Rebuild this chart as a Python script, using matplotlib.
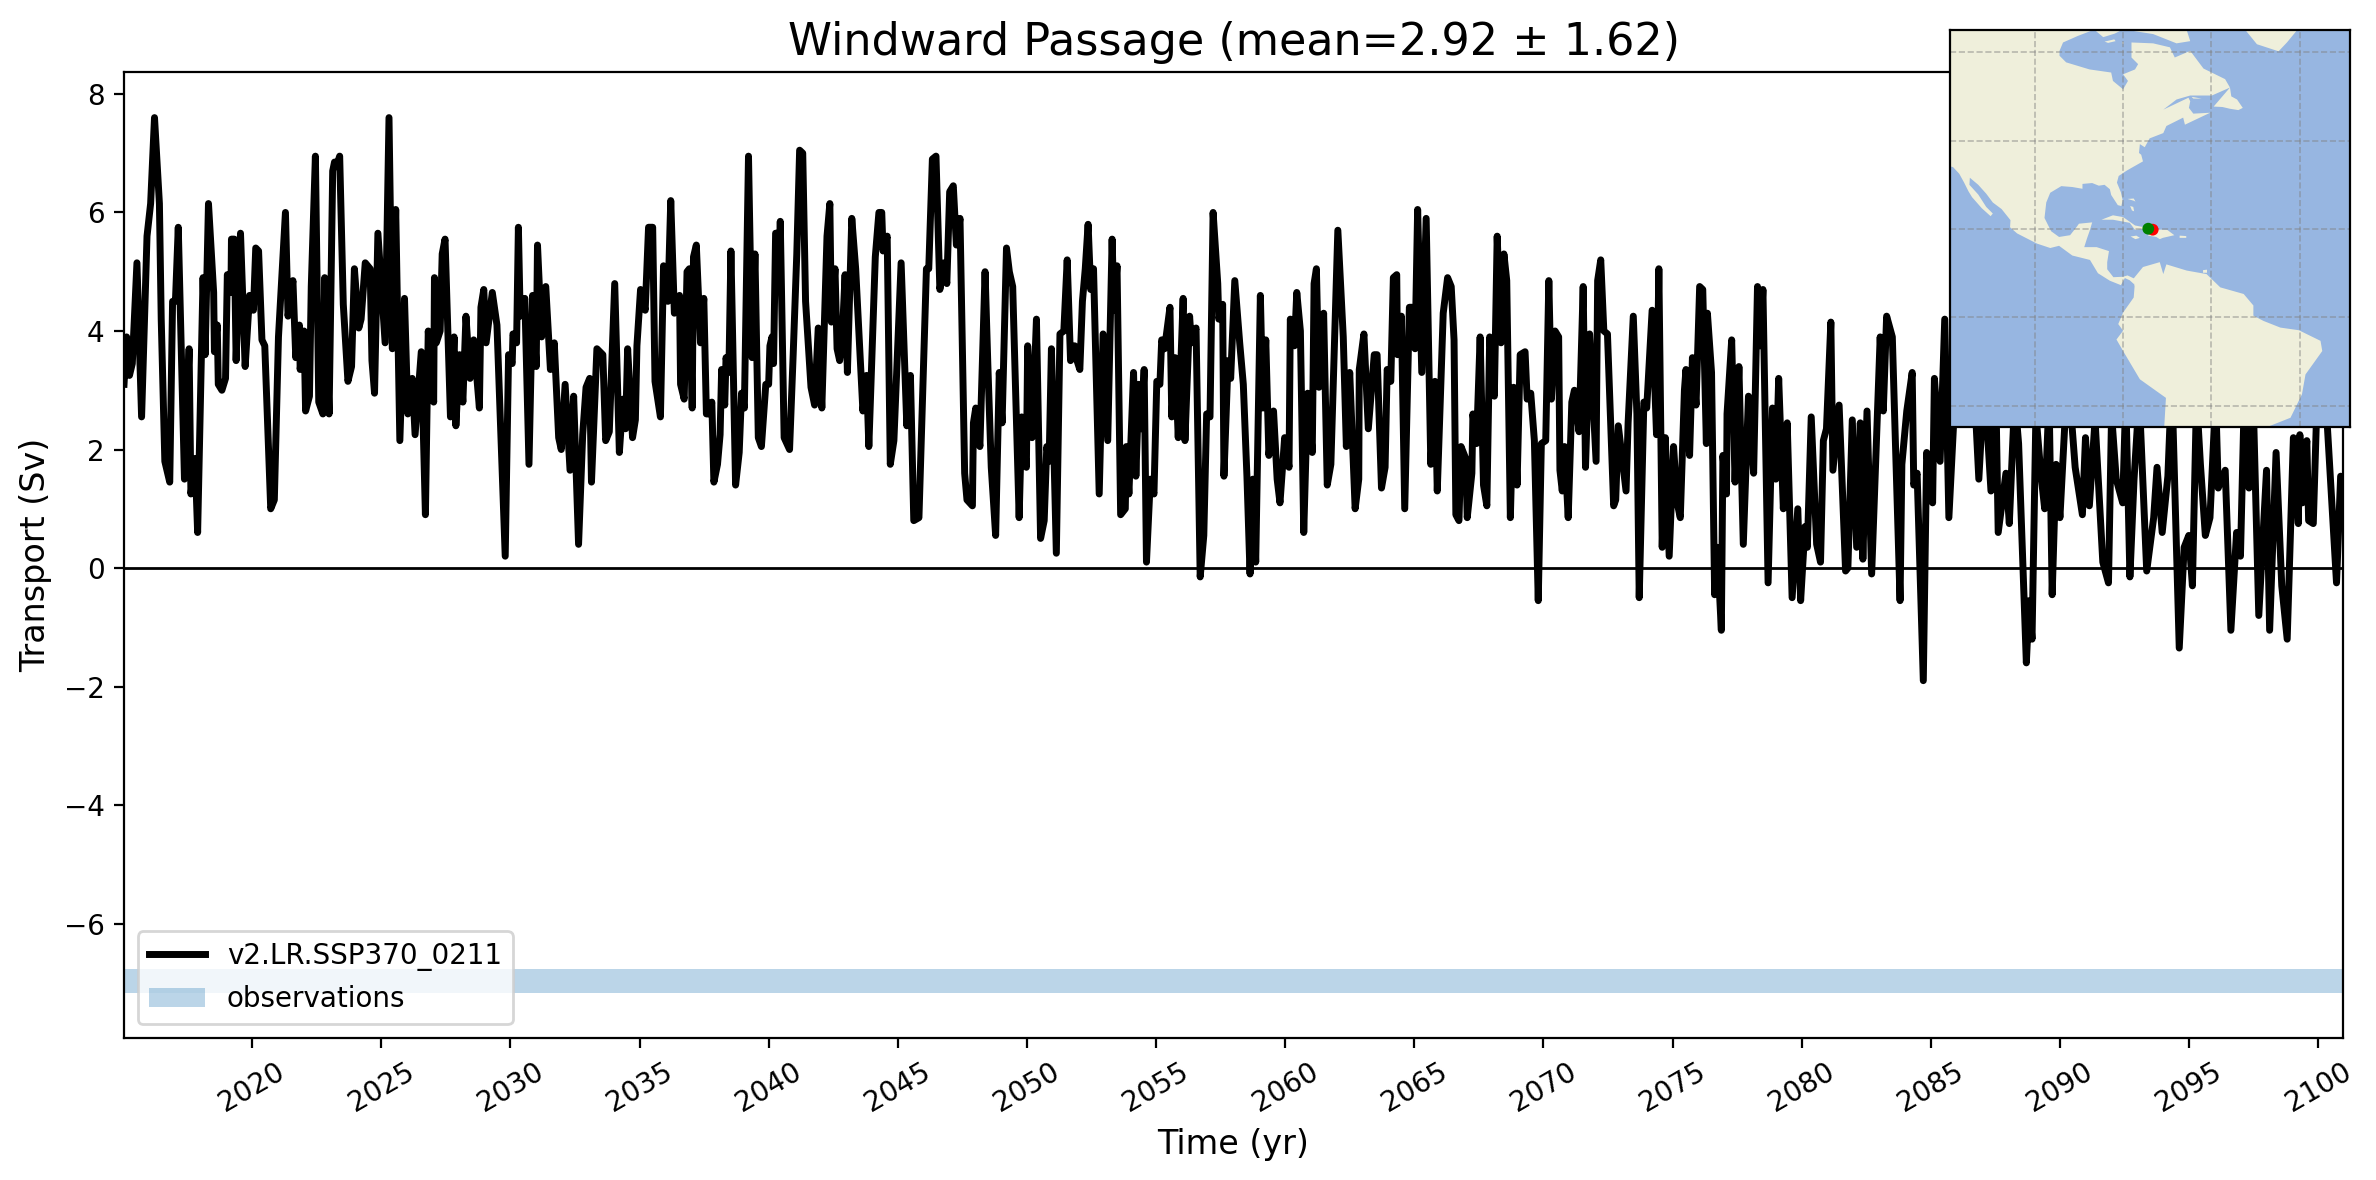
import matplotlib
matplotlib.use("Agg")
import matplotlib.pyplot as plt
from matplotlib.patches import Polygon

title = "Windward Passage (mean=2.92 \u00b1 1.62)"
run_label = "v2.LR.SSP370_0211"
obs_label = "observations"
obs_low, obs_high = -7.17, -6.77
tick_years = list(range(2020, 2101, 5))
y_ticks = [-6, -4, -2, 0, 2, 4, 6, 8]
year_limits = (2015.04, 2100.96)
transport_limits = (-7.93, 8.37)

# (decimal year, transport in Sv)
trace_2015_2036 = [
(2015.04,3.1),(2015.14,3.9),(2015.25,3.25),(2015.36,3.45),(2015.54,5.15),(2015.72,2.55),(2015.93,5.6),(2016.07,6.15),
(2016.22,7.6),(2016.41,6.15),(2016.48,4.2),(2016.62,1.8),(2016.81,1.45),(2016.92,4.5),(2017.03,4.5),(2017.14,5.75),
(2017.38,1.5),(2017.56,3.7),(2017.63,1.25),(2017.79,1.85),(2017.89,0.6),(2018.10,4.9),(2018.18,3.6),(2018.31,6.15),
(2018.51,4.65),(2018.54,3.65),(2018.65,4.1),(2018.69,3.1),(2018.83,3.0),(2018.97,3.2),(2019.04,4.95),(2019.18,4.65),
(2019.20,5.55),(2019.31,5.55),(2019.38,3.5),(2019.55,5.65),(2019.73,3.4),(2019.90,4.6),(2020.05,4.35),(2020.14,5.4),
(2020.25,5.35),(2020.38,3.85),(2020.49,3.75),(2020.72,1.0),(2020.86,1.15),(2021.02,3.9),(2021.29,6.0),(2021.39,4.25),
(2021.58,4.85),(2021.69,3.55),(2021.83,4.1),(2021.86,3.35),(2022.01,4.0),(2022.07,2.65),(2022.22,2.9),(2022.29,4.75),
(2022.45,6.95),(2022.58,2.8),(2022.74,2.6),(2022.81,4.9),(2022.98,2.6),(2023.12,6.7),(2023.19,6.85),(2023.28,6.8),
(2023.39,6.95),(2023.53,4.45),(2023.71,3.15),(2023.85,3.4),(2023.96,5.05),(2024.13,4.05),(2024.22,4.2),(2024.38,5.15),
(2024.57,5.05),(2024.64,3.5),(2024.74,2.95),(2024.87,5.65),(2025.15,3.8),(2025.30,7.6),(2025.43,3.7),(2025.56,6.05),
(2025.72,2.15),(2025.90,4.55),(2026.03,2.6),(2026.20,3.2),(2026.31,2.25),(2026.55,3.65),(2026.71,0.9),(2026.82,4.0),
(2027.03,2.8),(2027.06,4.9),(2027.13,3.8),(2027.28,4.0),(2027.36,5.3),(2027.47,5.55),(2027.68,2.55),(2027.82,3.9),
(2027.89,2.4),(2028.03,3.6),(2028.16,2.8),(2028.28,4.25),(2028.44,3.2),(2028.58,3.85),(2028.80,2.7),(2028.86,4.4),
(2028.97,4.7),(2029.06,3.8),(2029.30,4.65),(2029.48,4.1),(2029.80,0.2),(2029.93,3.6),(2030.07,3.45),(2030.10,3.95),
(2030.24,3.8),(2030.31,5.75),(2030.38,4.25),(2030.56,4.55),(2030.72,1.75),(2030.86,4.6),(2031.00,3.4),(2031.05,5.45),
(2031.21,3.9),(2031.37,4.75),(2031.55,3.35),(2031.70,3.8),(2031.87,2.2),(2031.97,2.0),(2032.12,3.1),(2032.31,1.65),
(2032.45,2.9),(2032.64,0.4),(2032.80,2.25),(2032.93,3.05),(2033.07,3.2),(2033.14,1.45),(2033.35,3.7),(2033.58,3.6),
(2033.69,2.15),(2033.83,2.3),(2034.04,4.8),(2034.22,1.95),(2034.36,2.85),(2034.46,2.35),(2034.54,3.7),(2034.73,2.2),
(2034.84,2.5),(2034.90,3.75),(2035.04,4.7),(2035.22,4.35),(2035.35,5.75),(2035.51,5.75),(2035.60,3.15),(2035.81,2.55),
(2035.93,5.1),(2036.10,4.5),(2036.21,6.2),
]
trace_2036_2058 = [
(2036.35,4.3),(2036.55,4.6),(2036.59,3.1),(2036.73,2.85),(2036.84,5.0),(2036.93,5.05),(2037.04,2.7),(2037.09,5.25),
(2037.20,5.45),(2037.36,3.8),(2037.49,4.55),(2037.59,2.6),(2037.70,2.6),(2037.80,2.8),(2037.88,1.45),(2038.02,1.75),
(2038.12,2.25),(2038.18,3.35),(2038.30,2.75),(2038.35,3.55),(2038.46,3.3),(2038.54,5.35),(2038.72,1.4),(2038.86,1.95),
(2038.95,2.95),(2039.06,2.7),(2039.22,6.95),(2039.36,3.55),(2039.47,5.3),(2039.60,2.2),(2039.72,2.05),(2039.89,3.1),
(2040.00,3.1),(2040.05,3.75),(2040.13,3.9),(2040.19,3.45),(2040.27,5.65),(2040.36,5.65),(2040.40,4.75),(2040.45,5.85),
(2040.60,2.2),(2040.81,2.0),(2040.95,3.6),(2041.09,5.3),(2041.20,7.05),(2041.32,7.0),(2041.43,4.5),(2041.64,3.05),
(2041.78,2.75),(2041.92,4.05),(2042.06,2.7),(2042.26,5.6),(2042.37,6.15),(2042.43,4.15),(2042.57,5.05),(2042.65,3.7),
(2042.75,3.5),(2042.84,3.8),(2042.96,4.95),(2043.05,3.3),(2043.22,5.9),(2043.37,5.05),(2043.65,2.65),(2043.79,3.25),
(2043.88,2.05),(2044.13,5.25),(2044.27,6.0),(2044.38,6.0),(2044.43,5.35),(2044.59,5.6),(2044.71,1.75),(2044.85,2.15),
(2045.13,5.15),(2045.35,2.4),(2045.49,3.25),(2045.62,0.8),(2045.82,0.85),(2046.11,5.05),(2046.20,5.05),(2046.34,6.9),
(2046.48,6.95),(2046.63,4.7),(2046.79,5.15),(2046.90,4.8),(2047.01,6.35),(2047.15,6.45),(2047.27,5.45),(2047.41,5.9),
(2047.59,1.6),(2047.68,1.15),(2047.89,1.05),(2047.93,2.45),(2048.02,2.7),(2048.18,2.05),(2048.38,5.0),(2048.49,3.4),
(2048.62,1.7),(2048.79,0.55),(2048.93,3.3),(2049.04,2.45),(2049.21,5.4),(2049.32,5.0),(2049.45,4.75),(2049.70,0.85),
(2049.80,2.55),(2049.98,1.7),(2050.03,3.75),(2050.20,2.2),(2050.37,4.2),(2050.53,0.5),(2050.67,0.8),(2050.77,2.05),
(2050.86,1.8),(2050.95,3.7),(2051.14,0.25),(2051.28,3.95),(2051.43,4.0),(2051.56,5.2),(2051.69,3.5),(2051.85,3.75),
(2051.94,3.5),(2052.05,3.35),(2052.15,4.5),(2052.26,5.05),(2052.37,5.8),(2052.47,4.7),(2052.58,5.05),(2052.80,1.25),
(2052.95,3.95),(2053.13,2.15),(2053.30,5.55),(2053.37,4.35),(2053.49,5.1),(2053.63,0.9),(2053.81,1.0),(2053.85,2.05),
(2053.95,1.25),(2054.13,3.3),(2054.22,1.55),(2054.34,3.1),(2054.43,2.35),(2054.54,3.35),(2054.63,0.1),(2054.78,1.5),
(2054.92,1.25),(2055.03,3.15),(2055.15,3.1),(2055.22,3.85),(2055.33,3.7),(2055.54,4.4),(2055.61,2.55),(2055.74,3.55),
(2055.86,2.2),(2056.05,4.55),(2056.12,2.15),(2056.30,4.25),(2056.37,3.8),(2056.55,4.05),(2056.71,-0.15),(2056.85,0.55),
(2056.96,2.6),(2057.09,2.55),(2057.21,6.0),(2057.39,4.8),(2057.43,4.2),(2057.58,4.45),(2057.63,1.55),(2057.79,3.5),
]
trace_2058_2079 = [
(2057.89,3.2),(2058.05,4.85),(2058.24,3.8),(2058.38,3.1),(2058.52,1.55),(2058.64,-0.1),(2058.75,1.5),(2058.86,0.1),
(2059.04,4.6),(2059.14,2.7),(2059.25,3.85),(2059.37,1.9),(2059.55,2.65),(2059.69,1.5),(2059.80,1.1),(2059.98,2.2),
(2060.15,1.7),(2060.20,4.2),(2060.36,3.75),(2060.45,4.65),(2060.59,4.0),(2060.72,0.6),(2060.87,2.95),(2061.05,1.95),
(2061.12,4.8),(2061.21,5.05),(2061.31,3.05),(2061.49,4.3),(2061.63,1.4),(2061.77,1.75),(2062.04,5.7),(2062.25,3.9),
(2062.37,2.05),(2062.50,3.3),(2062.71,1.0),(2062.85,1.5),(2062.87,3.35),(2063.05,3.95),(2063.22,2.35),(2063.45,3.6),
(2063.56,3.6),(2063.73,1.35),(2063.87,1.7),(2063.95,3.35),(2064.09,3.15),(2064.19,4.9),(2064.32,4.95),(2064.35,3.6),
(2064.50,4.25),(2064.63,1.0),(2064.81,4.4),(2064.91,4.4),(2065.03,3.7),(2065.13,6.05),(2065.29,3.3),(2065.46,5.9),
(2065.64,1.75),(2065.80,3.15),(2065.89,1.3),(2066.12,4.3),(2066.29,4.9),(2066.43,4.75),(2066.54,3.85),(2066.61,0.9),
(2066.73,0.8),(2066.81,2.05),(2066.99,1.85),(2067.05,0.85),(2067.23,1.6),(2067.27,2.6),(2067.41,2.1),(2067.55,3.9),
(2067.68,1.4),(2067.81,1.05),(2067.92,3.9),(2068.10,2.9),(2068.21,5.6),(2068.36,3.8),(2068.47,5.3),(2068.58,4.85),
(2068.72,0.85),(2068.85,3.05),(2068.98,1.4),(2069.10,3.6),(2069.29,3.65),(2069.37,2.85),(2069.51,2.95),(2069.65,2.15),
(2069.80,-0.55),(2069.92,2.1),(2070.09,2.15),(2070.21,4.85),(2070.31,2.85),(2070.45,4.0),(2070.59,3.9),(2070.64,1.65),
(2070.73,1.3),(2070.82,2.05),(2070.96,0.85),(2071.10,2.8),(2071.20,3.0),(2071.38,2.3),(2071.54,4.75),(2071.63,1.7),
(2071.79,3.95),(2072.04,1.8),(2072.10,4.85),(2072.22,5.2),(2072.34,4.0),(2072.48,3.95),(2072.72,1.05),(2072.80,1.15),
(2072.90,2.4),(2073.20,1.3),(2073.28,2.45),(2073.48,4.25),(2073.62,2.6),(2073.71,-0.5),(2073.89,2.8),(2074.00,2.7),
(2074.21,4.35),(2074.38,2.25),(2074.47,5.05),(2074.60,0.35),(2074.72,2.2),(2074.87,0.2),(2075.04,2.05),(2075.18,1.1),
(2075.30,0.85),(2075.46,3.0),(2075.52,3.35),(2075.66,1.9),(2075.77,3.55),(2075.91,2.75),(2076.05,4.75),(2076.17,4.7),
(2076.31,2.1),(2076.35,4.3),(2076.51,3.3),(2076.63,-0.45),(2076.73,0.35),(2076.89,-1.05),(2076.95,1.9),(2077.09,1.25),
(2077.11,2.6),(2077.29,3.85),(2077.42,1.45),(2077.57,3.4),(2077.74,0.4),(2077.94,2.9),(2078.14,1.6),(2078.29,4.75),
(2078.39,3.75),(2078.50,4.7),(2078.70,-0.25),(2078.87,2.7),(2079.00,1.5),(2079.11,3.2),
]
trace_2079_2101 = [
(2079.29,1.0),(2079.44,2.45),(2079.63,-0.5),(2079.85,1.0),(2079.96,-0.55),(2080.13,0.7),(2080.22,0.35),(2080.37,2.55),
(2080.58,0.4),(2080.73,0.1),(2080.84,2.15),(2080.96,2.35),(2081.13,4.15),(2081.21,1.65),(2081.45,2.75),(2081.70,-0.05),
(2081.79,0.0),(2081.96,2.5),(2082.13,0.35),(2082.27,2.45),(2082.37,0.15),(2082.53,2.65),(2082.71,-0.1),(2083.04,3.9),
(2083.16,2.65),(2083.29,4.25),(2083.51,3.9),(2083.81,-0.55),(2083.88,1.75),(2084.07,2.65),(2084.28,3.3),(2084.34,1.4),
(2084.47,1.6),(2084.71,-1.9),(2084.84,1.95),(2085.07,1.1),(2085.14,3.2),(2085.36,1.8),(2085.54,4.2),(2085.70,0.85),
(2086.03,3.7),(2086.33,2.6),(2086.62,3.6),(2086.86,1.5),(2087.07,3.2),(2087.33,1.3),(2087.51,3.2),(2087.61,0.6),
(2087.91,1.6),(2088.04,0.75),(2088.25,2.9),(2088.40,2.1),(2088.70,-1.6),(2088.81,-0.55),(2088.92,-1.2),(2089.07,2.6),
(2089.26,1.6),(2089.41,1.0),(2089.58,2.9),(2089.70,-0.45),(2089.85,1.75),(2090.00,0.85),(2090.18,2.35),(2090.33,3.2),
(2090.59,1.7),(2090.87,0.9),(2090.99,2.2),(2091.14,1.05),(2091.36,2.5),(2091.66,0.1),(2091.88,-0.25),(2092.00,2.6),
(2092.18,1.5),(2092.43,1.1),(2092.55,2.9),(2092.71,-0.15),(2092.87,1.5),(2093.07,2.9),(2093.36,-0.05),(2093.63,0.85),
(2093.76,1.7),(2093.96,0.6),(2094.18,1.55),(2094.33,3.2),(2094.62,-1.35),(2094.81,0.35),(2094.99,0.55),(2095.13,-0.3),
(2095.29,2.9),(2095.44,1.75),(2095.63,0.55),(2095.81,0.85),(2096.03,2.9),(2096.13,1.35),(2096.40,1.65),(2096.62,-1.05),
(2096.84,0.6),(2096.99,0.2),(2097.14,2.9),(2097.32,1.35),(2097.48,2.9),(2097.70,-0.8),(2098.00,1.65),(2098.12,-1.05),
(2098.37,1.95),(2098.59,-0.3),(2098.80,-1.2),(2099.04,2.2),(2099.23,0.75),(2099.29,2.25),(2099.39,1.1),(2099.56,2.15),
(2099.63,0.8),(2099.81,0.75),(2099.96,2.9),(2100.18,3.7),(2100.71,-0.25),(2100.87,1.55),(2100.96,1.5),
]

# Map: land outlines as (lon, lat)
north_america = [
(-125,70),(-86.8,70),(-86.8,65),(-90.2,63.7),(-93.6,62.2),(-94.4,60.3),(-94.4,59.2),(-92.9,57.7),(-87.6,56.1),(-82.7,55.4),
(-82.3,53.5),(-80,51.6),(-78.9,53.5),(-80,55),(-77.3,56.1),(-76.6,57.3),(-78.1,58.8),(-78.1,62.2),(-73.2,62),(-69.4,61.1),
(-68.3,58.8),(-64.8,60.3),(-61.8,56.3),(-56.9,53.9),(-55.8,52),(-59.9,50.2),(-64.8,50.2),(-67.9,49.3),(-70.9,47),
(-65.2,49.7),(-64.8,48.9),(-65.1,47.4),(-64.1,46.1),(-60.3,46.3),(-66,43.6),(-66.4,45.2),(-70.2,43.3),(-70.9,41.7),
(-74,40.5),(-75.1,38.5),(-76.2,39.2),
(-76.4,37.2),(-75.9,36.8),(-75.5,35.3),(-77.8,34),(-79.2,33.2),(-81,32),(-81.4,30.5),(-80.5,28.3),(-80.1,26.5),
(-80.4,25.2),(-81.2,25.4),(-82.7,27.7),(-83,29),(-84.2,30),(-85.5,29.8),(-87,30.4),(-89.2,30.2),(-89.2,29.1),
(-91.5,29.5),(-94,29.7),(-96.5,28.2),(-97.4,26),(-97.8,22.5),(-96.3,19.5),(-94.5,18.2),(-92,18.6),(-90.5,20.5),
(-90,21.2),(-87,21.5),(-87.6,19.5),(-88.2,17.8),(-88.8,15.9),(-86,15.9),(-83.2,15),(-83.6,12.5),(-83.6,10.9),
(-82.2,9.1),(-80,9.2),(-79,9.5),(-77.3,8.7),(-77.5,7.5),(-78.5,8.4),(-79.6,8.9),(-80.5,7.3),(-83,8.3),(-85.7,10),
(-87.5,13),(-91.5,14),(-94.5,16.2),(-96.5,15.7),(-99.5,16.7),(-104,19),(-105.6,20.4),(-105.5,22),(-107.5,24.5),
(-109.5,26),(-111,28),(-112.8,30),(-114.7,31.6),(-114.8,30),(-112.8,27.8),(-111,25),(-109.5,23.5),(-110,22.9),
(-112,24.7),(-114.2,27.2),(-115,28.5),(-116,30.5),(-117.1,32.5),(-118.5,34),(-120.5,34.5),(-125,40),
]
south_america = [
(-77.7,8.7),(-75.5,11.4),(-71.7,12.5),(-70.9,9.8),(-70.2,12),(-65.6,10.6),(-61.1,9.8),(-58,6.8),(-52.7,5.3),(-50.5,2.7),
(-50.5,0.4),(-48.2,-0.8),(-44.4,-2.3),(-40.2,-2.9),(-35.3,-5.3),(-34.9,-7.6),(-38.7,-12.9),(-39.5,-17.4),(-42.1,-22.7),
(-47.4,-24.8),(-49,-28),(-70.7,-28),(-70.7,-25),(-70.3,-18.2),(-76.2,-14),(-80,-7.6),(-81.5,-5),(-80,-3),(-81.1,-1.5),
(-80,1.1),(-77.6,4.5),(-77.4,7),
]
greenland = [(-52.3,65),(-49.7,61.8),(-44.8,60.2),(-42.9,62.2),(-40.6,65),(-40.6,68),(-52.3,68)]
southampton = [(-86.4,65),(-84.5,63.4),(-81.9,64.2),(-80.3,65),(-80.3,68),(-86.4,68)]
coats = [(-84.2,62.4),(-82,62.9),(-81.7,62.5),(-83.4,62.1)]
mansel = [(-80.3,62.2),(-79.8,62.2),(-80,61.8)]
baffin = [(-78.9,65),(-73.2,64.1),(-67.9,62),(-64.8,62.5),(-65.6,65),(-65.6,68),(-78.9,68)]
newfoundland = [(-59.5,47.7),(-55.8,52),(-55.5,50),(-54.2,49.3),(-52.9,47.4),(-53.9,46.9),(-55.8,47.2),(-57.5,47.6)]
anticosti = [(-64.5,49.9),(-62.2,49.5),(-64.1,49.5)]
cuba = [(-84.9,22.1),(-82.3,23.1),(-80,22.7),(-77.3,20.8),(-74.2,20.2),(-77.3,19.8),(-78.5,21.4),(-82.3,22.1)]
hispaniola = [(-74.4,18.5),(-72.8,19.9),(-70,19.8),(-68.4,18.6),(-71,18),(-71.7,17.7),(-72.5,18.2)]
jamaica = [(-78.3,18.3),(-77,18.5),(-76.2,18),(-77.2,17.7)]
puerto_rico = [(-67.2,18.5),(-65.7,18.4),(-65.7,18),(-67.2,18)]
grand_bahama = [(-79.0,26.8),(-77.6,26.9),(-77.2,26.2),(-77.6,26.4)]
andros = [(-78.4,25.2),(-77.7,25),(-77.5,24),(-78,24.2)]
trinidad = [(-61.9,10.7),(-61,10.8),(-61,10.1),(-61.9,10.1)]
land_shapes = [north_america, south_america, greenland, southampton, coats, mansel, baffin, newfoundland, anticosti,
               cuba, hispaniola, jamaica, puerto_rico, grand_bahama, andros, trinidad]
map_extent = (-119.2, -28.6, -24.8, 65)
grid_lons = [-100, -80, -60, -40]
grid_lats = [60, 40, 20, 0, -20]
section_lons = [-73.3, -74.3]
section_lats = [19.85, 20.07]
section_colors = ["red", "green"]

pairs = trace_2015_2036 + trace_2036_2058 + trace_2058_2079 + trace_2079_2101
time = [p[0] for p in pairs]
transport = [p[1] for p in pairs]

fig = plt.figure(figsize=(11.88, 5.90), dpi=200)
ax = fig.add_axes([0.0522, 0.1203, 0.9339, 0.8187])
ax.plot(time, transport, color="black", lw=2.5, label=run_label)
ax.axhspan(obs_low, obs_high, color="tab:blue", alpha=0.3, lw=0, label=obs_label)
ax.axhline(0, color="black", lw=1)
ax.set_xlim(*year_limits)
ax.set_ylim(*transport_limits)
ax.set_xticks(tick_years)
ax.set_xticklabels([str(y) for y in tick_years], rotation=30)
ax.set_yticks(y_ticks)
ax.set_title(title, fontsize=16, pad=6)
ax.set_xlabel("Time (yr)", fontsize=12)
ax.set_ylabel("Transport (Sv)", fontsize=12)
ax.legend(loc="lower left", fontsize=10)

m = fig.add_axes([0.8207, 0.6381, 0.1684, 0.3364])
m.set_facecolor("#97b6e1")
for shape in land_shapes:
    m.add_patch(Polygon(shape, closed=True, facecolor="#efefdb", edgecolor="none", zorder=1))
for lon in grid_lons:
    m.axvline(lon, color="gray", alpha=0.5, ls="--", lw=0.6, zorder=2)
for lat in grid_lats:
    m.axhline(lat, color="gray", alpha=0.5, ls="--", lw=0.6, zorder=2)
m.scatter(section_lons, section_lats, c=section_colors, s=18, linewidths=0, zorder=3)
m.set_xlim(map_extent[0], map_extent[1])
m.set_ylim(map_extent[2], map_extent[3])
m.set_xticks([])
m.set_yticks([])

fig.savefig("out.png", dpi=200)
